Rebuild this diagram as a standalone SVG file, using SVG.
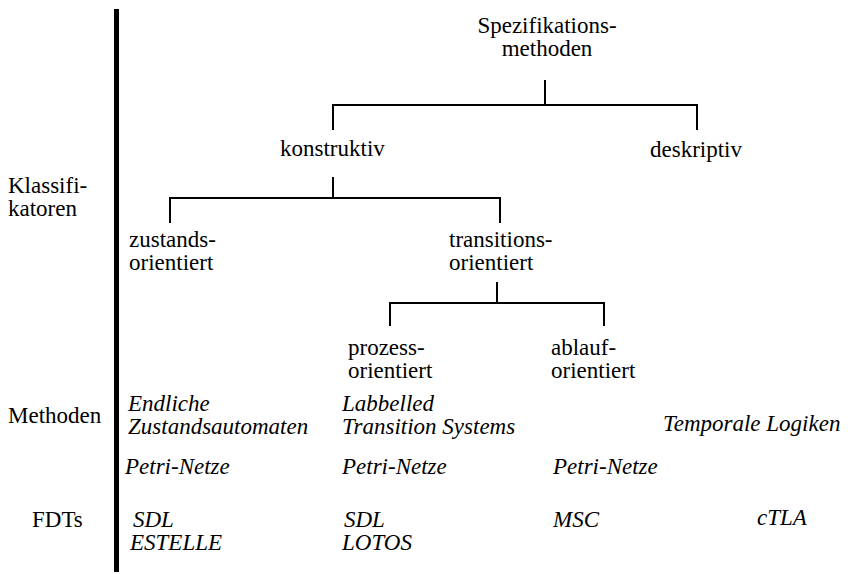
<svg xmlns="http://www.w3.org/2000/svg" width="852" height="574" viewBox="0 0 852 574">
  <rect width="852" height="574" fill="#fff"/>

  <!-- separator between row labels and the tree -->
  <rect id="separator" x="114" y="9" width="5" height="563" fill="#000"/>

  <!-- connectors -->
  <g id="connectors" fill="none" stroke="#000" stroke-width="2">
    <path d="M545 80 V105 M333 130 V105 H697 V130"/>
    <path d="M333 177 V198 M170 223 V198 H500 V223"/>
    <path d="M497 282 V303 M390 326 V303 H604 V326"/>
  </g>

  <g font-size="23" fill="#000">
    <!-- row labels -->
    <g id="row-labels">
      <text font-family="Liberation Serif" x="8" y="193">Klassifi-</text>
      <text font-family="Liberation Serif" x="8" y="216">katoren</text>
      <text font-family="Liberation Serif" x="8" y="423">Methoden</text>
      <text font-family="Liberation Serif" x="32" y="527">FDTs</text>
    </g>

    <!-- classification tree -->
    <g id="spezifikationsmethoden">
      <text font-family="Liberation Serif" x="547" y="33" text-anchor="middle">Spezifikations-</text>
      <text font-family="Liberation Serif" x="547" y="56" text-anchor="middle">methoden</text>
    </g>
    <g id="konstruktiv">
      <text font-family="Liberation Serif" x="280" y="156">konstruktiv</text>
    </g>
    <g id="deskriptiv">
      <text font-family="Liberation Serif" x="650" y="157">deskriptiv</text>
    </g>
    <g id="zustandsorientiert">
      <text font-family="Liberation Serif" x="129" y="247">zustands-</text>
      <text font-family="Liberation Serif" x="129" y="270">orientiert</text>
    </g>
    <g id="transitionsorientiert">
      <text font-family="Liberation Serif" x="449" y="247">transitions-</text>
      <text font-family="Liberation Serif" x="449" y="270">orientiert</text>
    </g>
    <g id="prozessorientiert">
      <text font-family="Liberation Serif" x="348" y="355">prozess-</text>
      <text font-family="Liberation Serif" x="348" y="378">orientiert</text>
    </g>
    <g id="ablauforientiert">
      <text font-family="Liberation Serif" x="551" y="355">ablauf-</text>
      <text font-family="Liberation Serif" x="551" y="378">orientiert</text>
    </g>

    <!-- methods -->
    <g id="methoden" font-style="italic">
      <text font-family="Liberation Serif" x="128" y="411">Endliche</text>
      <text font-family="Liberation Serif" x="128" y="434">Zustandsautomaten</text>
      <text font-family="Liberation Serif" x="342" y="411">Labbelled</text>
      <text font-family="Liberation Serif" x="342" y="434">Transition Systems</text>
      <text font-family="Liberation Serif" x="663" y="431">Temporale Logiken</text>
      <text font-family="Liberation Serif" x="125" y="474">Petri-Netze</text>
      <text font-family="Liberation Serif" x="342" y="474">Petri-Netze</text>
      <text font-family="Liberation Serif" x="553" y="474">Petri-Netze</text>
    </g>

    <!-- formal description techniques -->
    <g id="fdts" font-style="italic">
      <text font-family="Liberation Serif" x="133" y="527">SDL</text>
      <text font-family="Liberation Serif" x="130" y="550">ESTELLE</text>
      <text font-family="Liberation Serif" x="344" y="527">SDL</text>
      <text font-family="Liberation Serif" x="342" y="550">LOTOS</text>
      <text font-family="Liberation Serif" x="553" y="527">MSC</text>
      <text font-family="Liberation Serif" x="757" y="525">cTLA</text>
    </g>
  </g>
</svg>
